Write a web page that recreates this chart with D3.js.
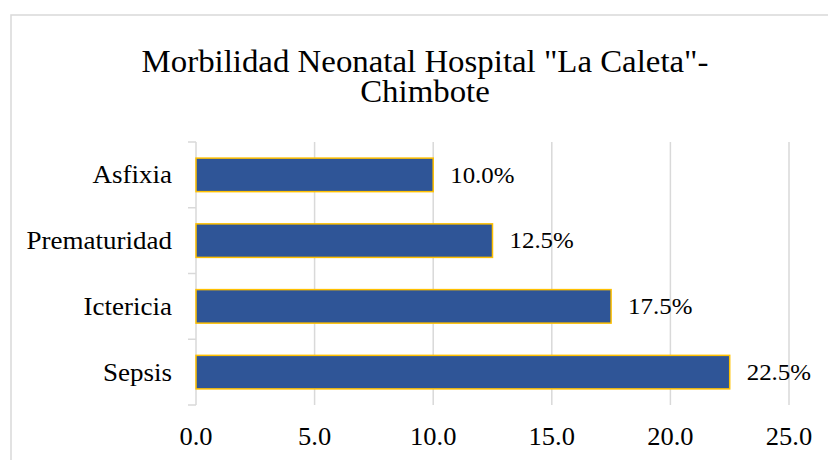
<!DOCTYPE html>
<html>
<head>
<meta charset="utf-8">
<script src="https://cdn.jsdelivr.net/npm/d3@7"></script>
<style>
  body { margin: 0; background: #fff; }
  text { font-family: "Liberation Serif", "Times New Roman", serif; fill: #000; }
</style>
</head>
<body>
<div id="chart"></div>
<script>
// data
const categories = ['Asfixia', 'Prematuridad', 'Ictericia', 'Sepsis'];
const values = [10.0, 12.5, 17.5, 22.5];
const xTicks = [0, 5, 10, 15, 20, 25];
const titleLines = ['Morbilidad Neonatal Hospital "La Caleta"-', 'Chimbote'];

const width = 828, height = 460;
const margin = { top: 142, right: 39, bottom: 55, left: 196 };
// the original text looks slightly wider than plain Times
const stretch = 1.06;

const svg = d3.select('#chart')
  .append('svg')
  .attr('width', width)
  .attr('height', height);

// chart area border
svg.append('rect')
  .attr('x', 11).attr('y', 15)
  .attr('width', width + 10).attr('height', height + 10)
  .attr('fill', 'none')
  .attr('stroke', '#d9d9d9')
  .attr('stroke-width', 1.5);

const x = d3.scaleLinear()
  .domain([0, 25])
  .range([margin.left, width - margin.right]);

const y = d3.scaleBand()
  .domain(categories)
  .range([margin.top, height - margin.bottom])
  .paddingInner(0.49)
  .paddingOuter(0.245);

const place = (px, py) => 'translate(' + px + ',' + py + ') scale(' + stretch + ',1)';

// gridlines
svg.append('g')
  .selectAll('line')
  .data(xTicks.slice(1))
  .join('line')
  .attr('x1', d => x(d)).attr('x2', d => x(d))
  .attr('y1', margin.top).attr('y2', height - margin.bottom)
  .attr('stroke', '#d9d9d9')
  .attr('stroke-width', 1.5);

// x tick labels
svg.append('g')
  .selectAll('text')
  .data(xTicks)
  .join('text')
  .attr('transform', d => place(x(d), 445))
  .attr('text-anchor', 'middle')
  .style('font-size', '25px')
  .text(d => d3.format('.1f')(d));

// left axis line with ticks at band edges
const edges = categories.map(c => y(c) - y.step() * y.paddingInner() / 2);
edges.push(height - margin.bottom);
svg.append('line')
  .attr('x1', margin.left).attr('x2', margin.left)
  .attr('y1', margin.top).attr('y2', height - margin.bottom)
  .attr('stroke', '#d9d9d9').attr('stroke-width', 1.5);
svg.append('g')
  .selectAll('line')
  .data(edges)
  .join('line')
  .attr('x1', margin.left - 8).attr('x2', margin.left)
  .attr('y1', d => d).attr('y2', d => d)
  .attr('stroke', '#d9d9d9').attr('stroke-width', 1.5);

// bars
svg.append('g')
  .selectAll('rect')
  .data(values)
  .join('rect')
  .attr('x', x(0))
  .attr('y', (d, i) => y(categories[i]))
  .attr('width', d => x(d) - x(0))
  .attr('height', y.bandwidth())
  .attr('fill', '#2f5597')
  .attr('stroke', '#ffc000')
  .attr('stroke-width', 1.5);

// category labels
svg.append('g')
  .selectAll('text')
  .data(categories)
  .join('text')
  .attr('transform', d => place(172, y(d) + y.bandwidth() / 2))
  .attr('dy', '0.33em')
  .attr('text-anchor', 'end')
  .style('font-size', '25.5px')
  .text(d => d);

// value labels
svg.append('g')
  .selectAll('text')
  .data(values)
  .join('text')
  .attr('transform', (d, i) => place(x(d) + 17, y(categories[i]) + y.bandwidth() / 2))
  .attr('dy', '0.33em')
  .style('font-size', '23.5px')
  .text(d => d3.format('.1f')(d) + '%');

// title
svg.append('g')
  .selectAll('text')
  .data(titleLines)
  .join('text')
  .attr('transform', (d, i) => place(425, 72 + i * 30))
  .attr('text-anchor', 'middle')
  .style('font-size', '31px')
  .text(d => d);
</script>
</body>
</html>
